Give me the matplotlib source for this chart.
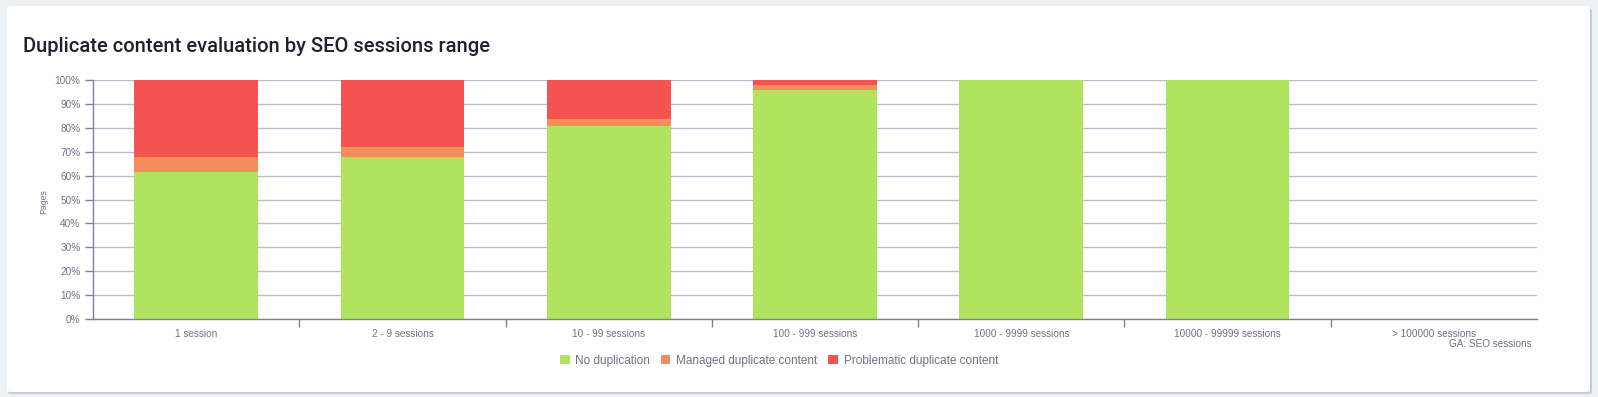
import numpy as np
import matplotlib
matplotlib.use("Agg")
import matplotlib.pyplot as plt
from matplotlib.patches import FancyBboxPatch, Patch

categories = ["1 session", "2 - 9 sessions", "10 - 99 sessions", "100 - 999 sessions",
              "1000 - 9999 sessions", "10000 - 99999 sessions", "> 100000 sessions"]
no_dup = [61.5, 67.8, 80.8, 95.8, 100, 100, 0]
managed = [6.3, 4.3, 2.9, 2.1, 0, 0, 0]
problematic = [32.2, 27.9, 16.3, 2.1, 0, 0, 0]
series_names = ["No duplication", "Managed duplicate content", "Problematic duplicate content"]
colors = ["#b0e35e", "#f58e5a", "#f45451"]

fig = plt.figure(figsize=(15.98, 3.97), dpi=100)
fig.patch.set_facecolor("#edf1f4")

# white card with light shadow
W, H = 1598, 397
shadow = FancyBboxPatch((8 / W, 3 / H), 1584 / W, 385 / H, boxstyle="round,pad=0,rounding_size=0.003",
                        transform=fig.transFigure, facecolor="#c9cdd3", edgecolor="none", zorder=-3)
card = FancyBboxPatch((7 / W, 5 / H), 1583 / W, 386 / H, boxstyle="round,pad=0,rounding_size=0.003",
                      transform=fig.transFigure, facecolor="white", edgecolor="none", zorder=-2)
fig.patches.extend([shadow, card])

fig.text(23 / W, 1 - 46 / H, "Duplicate content evaluation by SEO sessions range",
         fontsize=14.5, family="Roboto", fontweight="medium", color="#1e2230", va="center", ha="left")

ax = fig.add_axes([93 / W, 78 / H, 1444 / W, 239 / H])
ax.set_facecolor("none")

x = np.arange(len(categories))
bottom = np.zeros(len(categories))
for vals, col, name in zip([no_dup, managed, problematic], colors, series_names):
    ax.bar(x, vals, width=0.6, bottom=bottom, color=col, label=name, zorder=2)
    bottom += np.array(vals)

ax.set_xlim(-0.5, len(categories) - 0.5)
ax.set_ylim(0, 100)
ax.set_yticks(np.arange(0, 101, 10))
ax.set_yticklabels([f"{v}%" for v in range(0, 101, 10)])
ax.yaxis.grid(True, color="#b8bdcc", linewidth=1, zorder=0)
ax.set_axisbelow(True)

ax.set_xticks(np.arange(0.5, len(categories) - 1, 1))
ax.set_xticklabels([])
ax.set_xticks(x, minor=True)
ax.set_xticklabels(categories, minor=True)
ax.tick_params(axis="x", which="major", length=6, color="#7c8194", width=1)
ax.tick_params(axis="x", which="minor", length=0, pad=7, labelsize=7.2, labelcolor="#6d7286")
ax.tick_params(axis="y", length=6, color="#7c8194", width=1, pad=3, labelsize=7.2, labelcolor="#6d7286")
for lbl in ax.get_xticklabels(minor=True) + ax.get_yticklabels():
    lbl.set_family("Liberation Sans")

for s in ["top", "right"]:
    ax.spines[s].set_visible(False)
for s in ["left", "bottom"]:
    ax.spines[s].set_color("#7c8194")
    ax.spines[s].set_linewidth(1)

fig.text(44 / W, 1 - 202 / H, "Pages", fontsize=6.3, color="#6d7286", family="Liberation Sans",
         rotation=90, ha="center", va="center")

fig.text(1532 / W, 1 - 344 / H, "GA: SEO sessions", fontsize=7.2, color="#6d7286",
         family="Liberation Sans", ha="right", va="center")

handles = [Patch(facecolor=c, edgecolor="none") for c in colors]
leg = fig.legend(handles, series_names, loc="center", bbox_to_anchor=(779 / W, 1 - 361 / H), ncol=3,
                 frameon=False, handlelength=0.8, handleheight=0.8, handletextpad=0.5,
                 columnspacing=0.9, prop={"family": "Liberation Sans", "size": 8.5})
for t in leg.get_texts():
    t.set_color("#6d7286")

fig.savefig("out.png", dpi=100, facecolor=fig.get_facecolor())
